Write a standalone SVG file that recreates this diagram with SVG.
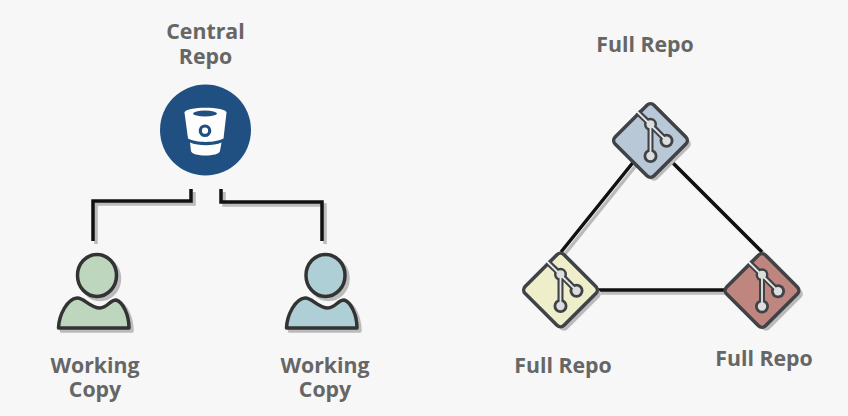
<svg xmlns="http://www.w3.org/2000/svg" width="848" height="416" viewBox="0 0 848 416">
<style>
text{font-family:"Open Sans","Liberation Sans",sans-serif;font-size:21.300px;font-weight:700;fill:#666;text-anchor:middle}
.c{fill:none;stroke:#111;stroke-width:3.500}
.cs{fill:none;stroke:#bbb;stroke-width:3.500}
.p{stroke:#333;stroke-width:3.500;stroke-linejoin:round}
.ps{fill:#bbb;stroke:#bbb;stroke-width:3.500;stroke-linejoin:round}
.d{stroke:#3f4347;stroke-width:3.500}
</style>
<defs>
<path id="body" d="M-38.500,53 C-38,40 -30,24 -20,23 C-13,22.500 -7,33 3,33 C10,33 13,25 19,25 C26,27 32,40 32,53 Z"/>
<g id="git">
<path d="M-13,-28 L0,-15.700 L16,0.700 M0,-15.700 V16" fill="none" stroke="#3f4347" stroke-width="6"/>
<circle cx="0" cy="-15.700" r="6.500" fill="#3f4347"/>
<circle cx="16" cy="0.700" r="7" fill="#3f4347"/>
<circle cx="0" cy="16" r="7" fill="#3f4347"/>
<path d="M-13.500,-28.500 L16,0.700 M0,-15.700 V16" fill="none" stroke="#e8e8e8" stroke-width="1.800"/>
<circle cx="0" cy="-15.700" r="4" fill="#ddd"/>
<circle cx="16" cy="0.700" r="4.200" fill="#ddd"/>
<circle cx="0" cy="16" r="4.200" fill="#ddd"/>
</g>
<rect id="dia" x="-27.500" y="-27.500" width="55" height="55" rx="5" transform="rotate(45)"/>
</defs>
<rect width="848" height="416" fill="#f7f7f7"/>
<g id="connectors">
<path class="cs" d="M194,192V204H96V244M224,192V205H325V244"/>
<path class="cs" d="M638,163L564,255M675,165L765,255M601,293H726"/>
<path class="c" d="M191,189V201H93V241M221,189V202H322V241"/>
<path class="c" d="M635,160L561,252M672,162L762,252M598,290H724"/>
</g>
<g id="central-repo">
<circle cx="205.500" cy="130" r="45.500" fill="#205081"/>
<path d="M184.500,112.500C184.500,106 226.500,106 226.500,112.500L223.500,138.500C215,143 196,143 188,138.500Z" fill="#fff"/>
<path d="M190,142.500C198,146 214,146 221.500,142.500L220,151C219,157 192,157 191,151Z" fill="#fff"/>
<ellipse cx="205" cy="113.500" rx="12" ry="3" fill="#205081"/>
<circle cx="205" cy="130.700" r="4.700" fill="#fff" stroke="#205081" stroke-width="3.200"/>
<text x="205.500" y="39">Central<tspan x="205.500" dy="24.500">Repo</tspan></text>
</g>
<g id="working-copy-1">
<use href="#body" x="97" y="275" class="ps" transform="translate(3,3)"/>
<ellipse cx="100" cy="278.500" rx="19.500" ry="21" class="ps"/>
<use href="#body" x="97" y="275" class="p" fill="#bdd6bd"/>
<ellipse cx="97" cy="275.400" rx="19.500" ry="21" class="p" fill="#bdd6bd"/>
<text x="95" y="373">Working<tspan x="95" dy="24">Copy</tspan></text>
</g>
<g id="working-copy-2">
<use href="#body" x="325" y="275" class="ps" transform="translate(3,3)"/>
<ellipse cx="328.500" cy="278.500" rx="19.500" ry="21" class="ps"/>
<use href="#body" x="325" y="275" class="p" fill="#afcfd6"/>
<ellipse cx="325.500" cy="275.400" rx="19.500" ry="21" class="p" fill="#afcfd6"/>
<text x="325" y="373">Working<tspan x="325" dy="24">Copy</tspan></text>
</g>
<g id="full-repo-top">
<use href="#dia" x="654" y="144" fill="#bbb"/>
<use href="#dia" x="650.500" y="140.500" class="d" fill="#b8c8d6"/>
<use href="#git" x="650.500" y="140"/>
<text x="645" y="52">Full Repo</text>
</g>
<g id="full-repo-left">
<use href="#dia" x="564" y="294" fill="#bbb"/>
<use href="#dia" x="560.500" y="290" class="d" fill="#eeeecb"/>
<use href="#git" x="560.500" y="290"/>
<text x="563" y="373">Full Repo</text>
</g>
<g id="full-repo-right">
<use href="#dia" x="766" y="294" fill="#bbb"/>
<use href="#dia" x="762" y="290.500" class="d" fill="#bf8680"/>
<use href="#git" x="762" y="290.500"/>
<text x="764" y="366">Full Repo</text>
</g>
</svg>
